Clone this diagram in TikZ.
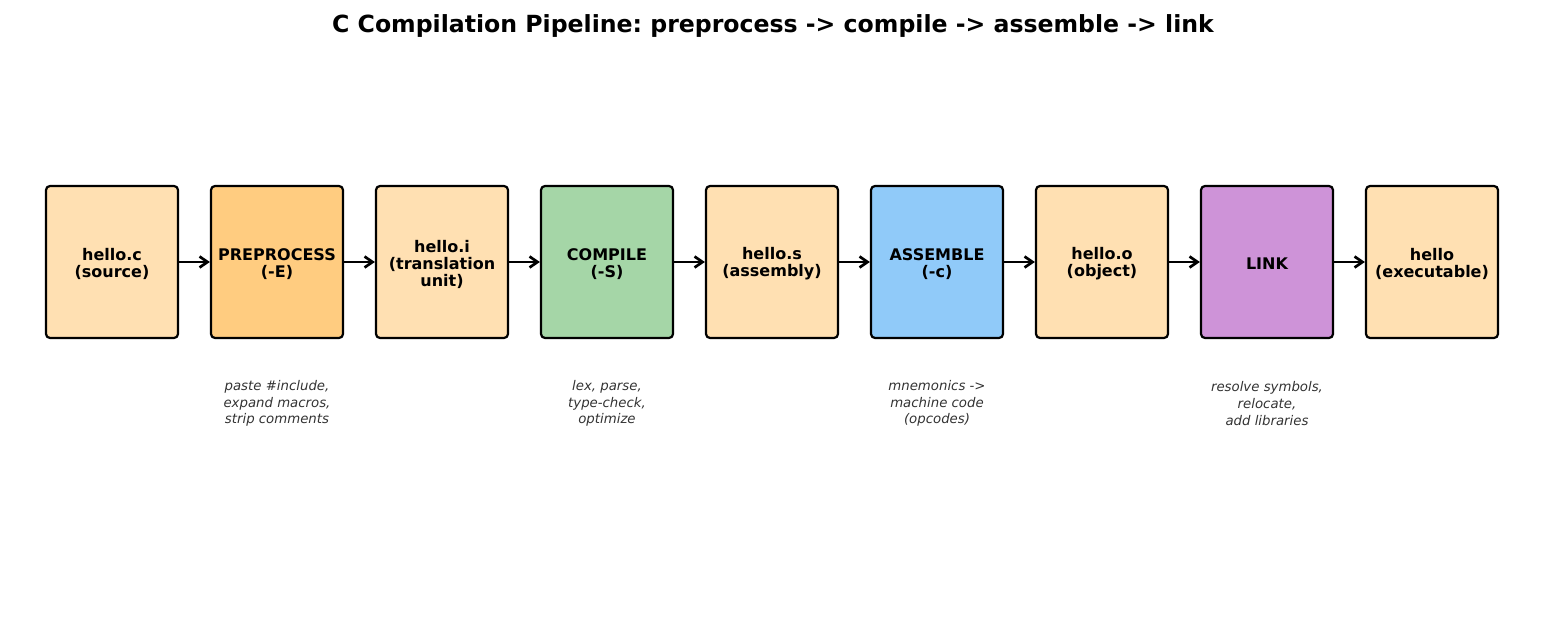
\documentclass[tikz,border=0pt]{standalone}
\usepackage{fontspec}
\setmainfont{DejaVu Sans}
\usetikzlibrary{arrows.meta}
\definecolor{fileC}{HTML}{FFE0B2}
\definecolor{preC}{HTML}{FFCC80}
\definecolor{compC}{HTML}{A5D6A7}
\definecolor{asmC}{HTML}{90CAF9}
\definecolor{linkC}{HTML}{CE93D8}
\definecolor{noteC}{HTML}{333333}
\tikzset{
  stage/.style={draw=black, line width=2.2pt, rounded corners=4pt, minimum width=132pt, minimum height=152pt, inner sep=0pt},
  stagetext/.style={align=center, yshift=-2pt, font=\fontsize{16}{17}\selectfont\bfseries},
  note/.style={align=center, text=noteC, font=\fontsize{13.3}{16.8}\selectfont\itshape},
  flow/.style={line width=2.7pt, -{Straight Barb[length=8pt,width=11pt,line width=2.7pt]}}
}
\begin{document}
\frenchspacing
\begin{tikzpicture}[x=1pt,y=-1pt]
\useasboundingbox (0,0) rectangle (1547,636);
\node[font=\fontsize{23.6}{26}\selectfont\bfseries] (title) at (773,25.5) {C Compilation Pipeline: preprocess -> compile -> assemble -> link};
\node[stage, fill=fileC, label={[stagetext]center:hello.c\\(source)}] (n1) at (112,262) {};
\node[stage, fill=preC, label={[stagetext]center:PREPROCESS\\(-E)}] (n2) at (277,262) {};
\node[stage, fill=fileC, label={[stagetext]center:hello.i\\(translation\\unit)}] (n3) at (442,262) {};
\node[stage, fill=compC, label={[stagetext]center:COMPILE\\(-S)}] (n4) at (607,262) {};
\node[stage, fill=fileC, label={[stagetext]center:hello.s\\(assembly)}] (n5) at (772,262) {};
\node[stage, fill=asmC, label={[stagetext]center:ASSEMBLE\\(-c)}] (n6) at (937,262) {};
\node[stage, fill=fileC, label={[stagetext]center:hello.o\\(object)}] (n7) at (1102,262) {};
\node[stage, fill=linkC, label={[stagetext]center:LINK}] (n8) at (1267,262) {};
\node[stage, fill=fileC, label={[stagetext]center:hello\\(executable)}] (n9) at (1432,262) {};
\foreach \a/\b in {n1/n2,n2/n3,n3/n4,n4/n5,n5/n6,n6/n7,n7/n8,n8/n9}
  \draw[flow] (\a.east) -- (\b.west);
\node[note] (t2) at (277,403.5) {paste \#include,\\expand macros,\\strip comments};
\node[note] (t4) at (607,403.5) {lex, parse,\\type-check,\\optimize};
\node[note] (t6) at (937,403.5) {mnemonics ->\\machine code\\(opcodes)};
\node[note] (t8) at (1267,403.5) {resolve symbols,\\relocate,\\add libraries};
\end{tikzpicture}
\end{document}
